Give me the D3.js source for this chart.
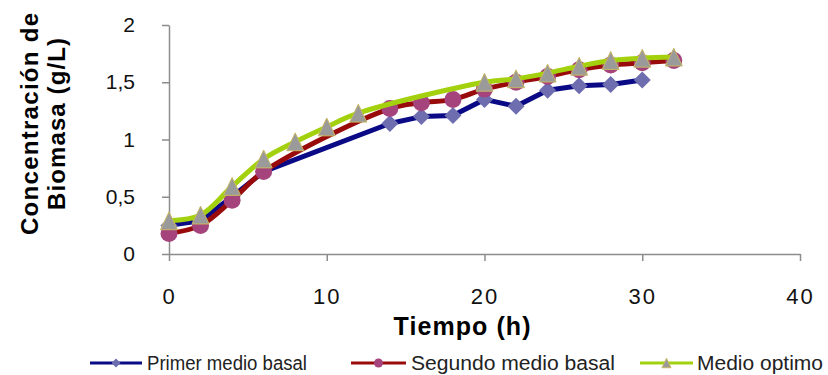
<!DOCTYPE html>
<html>
<head>
<meta charset="utf-8">
<script src="https://cdn.jsdelivr.net/npm/d3@7"></script>
<style>
  html, body { margin: 0; padding: 0; background: #fff; }
  svg { display: block; }
  text { font-family: "Liberation Sans", Arial, sans-serif; }
</style>
</head>
<body>
<svg id="chart" width="828" height="375"></svg>
<script>
// Biomass concentration (g/L) over time (h) for three culture media
const tiempoPrimer = [0, 2, 4, 6, 14, 16, 18, 20, 22, 24, 26, 28, 30];
const primerMedioBasal = [0.25, 0.29, 0.50, 0.72, 1.14, 1.20, 1.21, 1.35, 1.29, 1.43, 1.47, 1.48, 1.52];

const tiempoSegundo = [0, 2, 4, 6, 14, 16, 18, 20, 22, 24, 26, 28, 30, 32];
const segundoMedioBasal = [0.18, 0.25, 0.47, 0.72, 1.27, 1.32, 1.35, 1.44, 1.50, 1.55, 1.61, 1.65, 1.67, 1.69];

const tiempoOptimo = [0, 2, 4, 6, 8, 10, 12, 20, 22, 24, 26, 28, 30, 32];
const medioOptimo = [0.29, 0.34, 0.59, 0.83, 0.98, 1.11, 1.23, 1.50, 1.53, 1.58, 1.64, 1.69, 1.71, 1.72];

const xTicks = [0, 10, 20, 30, 40];
const yTicks = [0, 0.5, 1, 1.5, 2];
const yTickLabels = ["0", "0,5", "1", "1,5", "2"];

const seriesNames = ["Primer medio basal", "Segundo medio basal", "Medio optimo"];

const svg = d3.select("#chart");

const x = d3.scaleLinear().domain([0, 40]).range([169, 800]);
const y = d3.scaleLinear().domain([0, 2]).range([254, 25]);

const axisColor = "#8c8c8c";

// Y axis
const yAxis = svg.append("g")
  .attr("transform", `translate(${x(0)},0)`)
  .call(d3.axisLeft(y).tickValues(yTicks).tickSize(7).tickSizeOuter(0).tickPadding(27)
    .tickFormat((d, i) => yTickLabels[i]));
// X axis
const xAxis = svg.append("g")
  .attr("transform", `translate(0,${y(0)})`)
  .call(d3.axisBottom(x).tickValues(xTicks).tickSize(7).tickSizeOuter(0).tickPadding(27)
    .tickFormat(d3.format("d")));

[yAxis, xAxis].forEach(g => {
  g.select(".domain").attr("stroke", axisColor).attr("stroke-width", 1.5);
  g.selectAll(".tick line").attr("stroke", axisColor).attr("stroke-width", 1.5);
  g.selectAll(".tick text").attr("fill", "#111")
    .style("font-family", '"Liberation Sans", Arial, sans-serif');
});
yAxis.selectAll(".tick text").style("font-size", "21px");
xAxis.selectAll(".tick text").style("font-size", "22px").style("letter-spacing", "2px");

// Axis titles
svg.append("text")
  .attr("x", 462).attr("y", 335)
  .attr("text-anchor", "middle")
  .style("font-size", "25px").style("font-weight", "bold")
  .attr("textLength", 137)
  .text("Tiempo (h)");

const yTitle = svg.append("g").attr("transform", "translate(0,124) rotate(-90)");
yTitle.append("text")
  .attr("x", 0).attr("y", 38)
  .attr("text-anchor", "middle")
  .style("font-size", "24px").style("font-weight", "bold")
  .attr("textLength", 222)
  .text("Concentración de");
yTitle.append("text")
  .attr("x", 0).attr("y", 65)
  .attr("text-anchor", "middle")
  .style("font-size", "24px").style("font-weight", "bold")
  .attr("textLength", 172)
  .text("Biomasa (g/L)");

// Marker shapes
const diamondPath = r => `M0,${-r}L${r},0L0,${r}L${-r},0Z`;
const trianglePath = (w, h) => `M0,${-h / 2}L${w / 2},${h / 2}L${-w / 2},${h / 2}Z`;

const series = [
  { name: seriesNames[0], t: tiempoPrimer, v: primerMedioBasal, line: "#0a0a86", fill: "#6d6daf",
    curve: d3.curveLinear, marker: "diamond" },
  { name: seriesNames[1], t: tiempoSegundo, v: segundoMedioBasal, line: "#990b0b", fill: "#a5437c",
    curve: d3.curveCatmullRom.alpha(0.5), marker: "circle" },
  { name: seriesNames[2], t: tiempoOptimo, v: medioOptimo, line: "#a3d10e", fill: "#9a9a9a",
    curve: d3.curveCatmullRom.alpha(0.5), marker: "triangle" }
];

function drawMarker(g, type, cx, cy, s, fill) {
  if (type === "circle") {
    g.append("circle").attr("cx", cx).attr("cy", cy).attr("r", s / 2).attr("fill", fill);
  } else if (type === "diamond") {
    g.append("path").attr("d", diamondPath(s / 2)).attr("transform", `translate(${cx},${cy})`)
      .attr("fill", fill);
  } else {
    g.append("path").attr("d", trianglePath(s, s * 1.05)).attr("transform", `translate(${cx},${cy})`)
      .attr("fill", fill).attr("stroke", "#c9b862").attr("stroke-width", 1);
  }
}

series.forEach(s => {
  const pts = s.t.map((t, i) => [t, s.v[i]]);
  const g = svg.append("g");
  g.append("path")
    .datum(pts)
    .attr("fill", "none")
    .attr("stroke", s.line)
    .attr("stroke-width", 5)
    .attr("stroke-linejoin", "round")
    .attr("d", d3.line().x(d => x(d[0])).y(d => y(d[1])).curve(s.curve));
  pts.forEach(d => drawMarker(g, s.marker, x(d[0]), y(d[1]), 17, s.fill));
});

// Legend
const legendItems = [
  { x0: 90, x1: 142, tx: 147, tl: 160 },
  { x0: 351, x1: 406, tx: 411, tl: 204 },
  { x0: 640, x1: 693, tx: 697, tl: 126 }
];
const ly = 363;
series.forEach((s, i) => {
  const it = legendItems[i];
  const g = svg.append("g");
  g.append("line").attr("x1", it.x0).attr("x2", it.x1).attr("y1", ly).attr("y2", ly)
    .attr("stroke", s.line).attr("stroke-width", 3);
  drawMarker(g, s.marker, (it.x0 + it.x1) / 2, ly, 9, s.fill);
  g.append("text").attr("x", it.tx).attr("y", ly + 7)
    .style("font-size", "20px").attr("fill", "#222")
    .attr("textLength", it.tl).attr("lengthAdjust", "spacingAndGlyphs")
    .text(s.name);
});
</script>
</body>
</html>
